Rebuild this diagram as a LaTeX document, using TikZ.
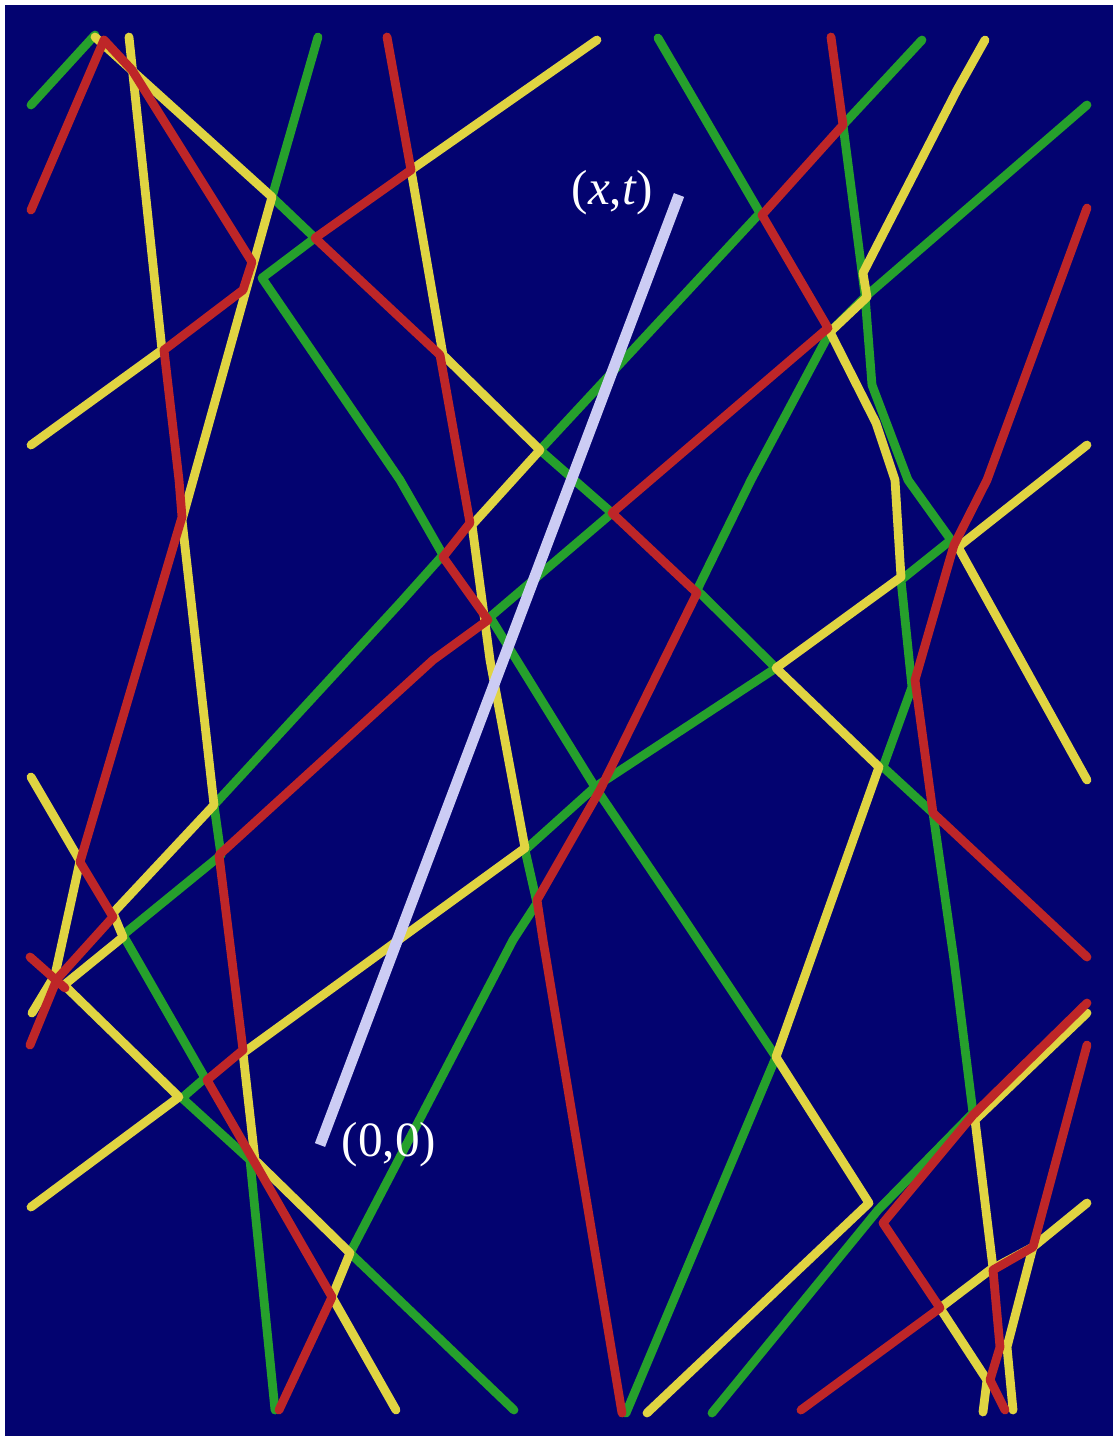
\documentclass[tikz,border=0pt]{standalone}
\usepackage{fontspec}
\setmainfont{Liberation Serif}
\usepackage{tikz}
\usetikzlibrary{calc}
\definecolor{fond}{RGB}{3,3,112}
\definecolor{jaune}{RGB}{224,212,66}
\definecolor{vert}{RGB}{38,160,44}
\definecolor{rouge}{RGB}{190,38,40}
\definecolor{lavande}{RGB}{204,204,244}

\begin{document}
\begin{tikzpicture}[x=0.01cm, y=-0.01cm, line join=round, line cap=round,
  yel/.style={jaune, line width=2.5pt},
  grn/.style={vert, line width=2.5pt},
  red/.style={rouge, line width=2.5pt},
  lbl/.style={text=white, font=\fontsize{14}{16}\selectfont, inner sep=2pt}]
  \useasboundingbox (0,0) rectangle (1118,1441);
  % Fond
  \fill[white] (0,0) rectangle (1118,1441);
  \fill[fond] (5,5) rectangle (1113,1436);
  % Trajectoires vertes
  \draw[grn] (31,105) -- (95,35);
  \draw[grn] (318,37) -- (272,197) -- (315,238) -- (262,278) -- (400,480) -- (443,555)
    -- (400,603) -- (214,805) -- (221,855) -- (123,935) -- (205,1078) -- (182,1098)
    -- (250,1160) -- (275,1410);
  \draw[grn] (658,38) -- (760,213) -- (540,450) -- (612,513) -- (490,617) -- (595,787)
    -- (680,913) -- (776,1057) -- (626,1413);
  \draw[grn] (922,40) -- (843,125) -- (865,295) -- (872,385) -- (908,480) -- (951,540)
    -- (901,580) -- (912,687) -- (883,767) -- (933,813) -- (954,960) -- (973,1113)
    -- (878,1210) -- (712,1413);
  \draw[grn] (1087,105) -- (865,297) -- (830,332) -- (751,480) -- (697,590) -- (776,668)
    -- (595,787) -- (525,850) -- (537,903) -- (513,940) -- (350,1253) -- (514,1410);
  % Trajectoires jaunes
  \draw[yel] (95,37) -- (272,197) -- (182,520) -- (214,805) -- (113,913) -- (123,937)
    -- (64,985) -- (179,1097) -- (31,1207);
  \draw[yel] (129,37) -- (162,350) -- (31,445);
  \draw[yel] (31,777) -- (80,861) -- (55,975) -- (32,1013);
  \draw[yel] (597,40) -- (411,170) -- (443,355) -- (540,450) -- (472,525) -- (490,660)
    -- (525,848) -- (243,1053) -- (255,1160) -- (350,1253) -- (332,1297) -- (396,1410);
  \draw[yel] (985,40) -- (957,90) -- (863,273) -- (867,297) -- (830,332) -- (876,423)
    -- (895,480) -- (901,577) -- (776,668) -- (879,767) -- (776,1057) -- (869,1203)
    -- (647,1413);
  \draw[yel] (1087,445) -- (958,547) -- (1087,780);
  \draw[yel] (1087,1013) -- (975,1120) -- (993,1268);
  \draw[yel] (940,1308) -- (990,1270) -- (1033,1247) -- (1087,1203);
  \draw[yel] (940,1308) -- (987,1380) -- (983,1412);
  \draw[yel] (1033,1247) -- (1007,1347) -- (1013,1410);
  % Trajectoires rouges
  \draw[red] (31,210) -- (104,40) -- (132,70) -- (252,262) -- (243,290) -- (164,350)
    -- (179,480) -- (182,517) -- (80,862) -- (113,917) -- (57,979) -- (30,1045);
  \draw[red] (30,957) -- (65,988);
  \draw[red] (387,37) -- (411,170) -- (315,238) -- (440,355) -- (470,523) -- (443,557)
    -- (488,620) -- (433,660) -- (219,855) -- (243,1050) -- (207,1080) -- (255,1163)
    -- (332,1297) -- (279,1410);
  \draw[red] (831,37) -- (843,125) -- (762,215) -- (828,328) -- (612,513) -- (697,593)
    -- (600,790) -- (537,900) -- (543,940) -- (622,1413);
  \draw[red] (1087,208) -- (987,480) -- (954,545) -- (915,680) -- (933,813) -- (1087,957);
  \draw[red] (1087,1003) -- (973,1115) -- (883,1223) -- (940,1308) -- (801,1410);
  \draw[red] (1087,1045) -- (1033,1247) -- (993,1270) -- (1000,1347) -- (990,1380)
    -- (1005,1410);
  % Segment de (0,0) a (x,t)
  \coordinate (O) at (320,1145);
  \coordinate (X) at (679,195);
  \draw[lavande, line width=3.1pt, line cap=butt] (O) -- (X);
  \node[lbl, anchor=east] (xt) at ($(X)+(-18,-2)$) {(\textit{x},\textit{t})};
  \node[lbl, anchor=west] (oo) at ($(O)+(14,0)$) {(0,0)};
\end{tikzpicture}
\end{document}
